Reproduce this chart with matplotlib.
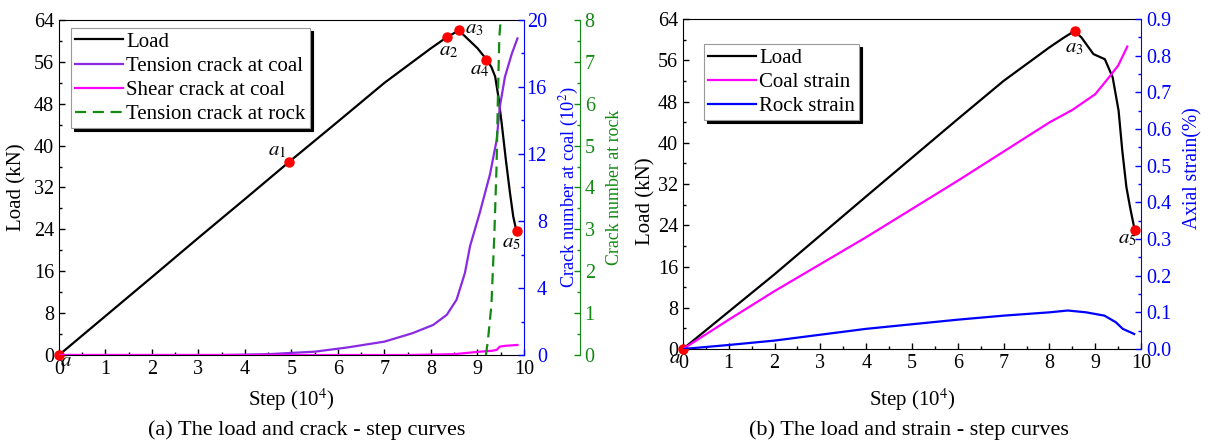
import matplotlib
matplotlib.use("Agg")
import matplotlib.pyplot as plt
from matplotlib.ticker import MultipleLocator, FormatStrFormatter

plt.rcParams["font.family"] = ["Liberation Serif", "DejaVu Serif"]
plt.rcParams["mathtext.fontset"] = "stix"
plt.rcParams["font.size"] = 14.5

# --- (a) load and crack vs step ---
step_load_a = [0, 1, 2, 3, 4, 4.95, 6, 7, 7.5, 8, 8.34, 8.6, 8.8, 9.0, 9.2, 9.3, 9.38, 9.45, 9.52, 9.61, 9.70, 9.77, 9.84]
load_a = [0, 7.45, 14.9, 22.4, 29.8, 36.9, 44.6, 52.0, 55.3, 58.6, 60.7, 62.0, 60.3, 58.6, 56.4, 55.0, 53.2, 49.3, 44.3, 37.3, 30.9, 26.4, 23.6]

tension_coal_x = [0, 3.5, 4.5, 5.5, 6.2, 7.0, 7.6, 8.05, 8.34, 8.55, 8.73, 8.84, 9.05, 9.27, 9.41, 9.48, 9.59, 9.74, 9.86]
tension_coal_y = [0, 0, 0.05, 0.2, 0.45, 0.8, 1.3, 1.8, 2.4, 3.3, 4.9, 6.5, 8.5, 10.8, 12.8, 14.8, 16.6, 18.0, 18.9]

shear_coal_x = [0, 7.5, 8.5, 9.05, 9.3, 9.41, 9.48, 9.6, 9.86]
shear_coal_y = [0, 0, 0.05, 0.2, 0.25, 0.3, 0.5, 0.55, 0.6]

tension_rock_x = [9.18, 9.22, 9.30, 9.36, 9.41, 9.44, 9.47, 9.50]
tension_rock_y = [0, 0.3, 1.2, 2.8, 4.5, 6.2, 7.6, 8.0]

pts_a_x = [0, 4.95, 8.34, 8.6, 9.19, 9.84]
pts_a_y = [0, 36.9, 60.7, 62.0, 56.3, 23.6]
pts_a_lab = [r"$a$", r"$a_1$", r"$a_2$", r"$a_3$", r"$a_4$", r"$a_5$"]
pts_a_off = [(5, -5), (-9, 8), (1.5, -10), (11, 1.5), (-5, -7), (-4, -8.5)]

# --- (b) load and strain vs step ---
step_load_b = [0, 2, 4, 6, 7, 8, 8.3, 8.55, 8.7, 8.96, 9.21, 9.38, 9.51, 9.59, 9.68, 9.76, 9.86]
load_b = [0, 14.5, 29.6, 44.6, 52.0, 58.5, 60.3, 61.7, 60.4, 57.2, 56.2, 52.7, 46.2, 38.5, 31.4, 27.5, 23.1]

coal_strain_x = [0, 1, 2, 4, 6, 8, 8.5, 9, 9.3, 9.5, 9.7]
coal_strain_y = [0, 0.08, 0.158, 0.305, 0.459, 0.618, 0.652, 0.695, 0.741, 0.773, 0.825]

rock_strain_x = [0, 1, 2, 4, 6, 7, 8, 8.4, 8.8, 9.2, 9.45, 9.6, 9.85]
rock_strain_y = [0, 0.011, 0.023, 0.055, 0.08, 0.091, 0.1, 0.105, 0.1, 0.091, 0.073, 0.055, 0.041]

pts_b_x = [0, 8.55, 9.86]
pts_b_y = [0, 61.7, 23.1]
pts_b_lab = [r"$a$", r"$a_3$", r"$a_5$"]
pts_b_off = [(-6, -7), (0, -12), (-5.5, -6.5)]

PURPLE = "#8a2be2"
MAGENTA = "#ff00ff"
GREEN = "#138a13"
BLUE = "#0000ff"


def style_x(ax):
    ax.set_xlim(0, 10)
    ax.xaxis.set_major_locator(MultipleLocator(1))
    ax.xaxis.set_minor_locator(MultipleLocator(0.5))
    ax.set_xlabel(r"Step (10$^4$)", fontsize=15)


def style_ticks(ax, color="k"):
    ax.tick_params(which="both", direction="in", color=color, labelcolor=color, width=1)
    ax.tick_params(which="major", length=4)
    ax.tick_params(which="minor", length=2.5)


def mark_points(ax, xs, ys, labels, offsets):
    ax.plot(xs, ys, "o", color="red", ms=6.5, zorder=10, clip_on=False)
    for x, y, lab, off in zip(xs, ys, labels, offsets):
        ax.annotate(lab, (x, y), xytext=off, textcoords="offset points",
                    ha="center", va="center", fontsize=15)


def add_legend(ax, handles, loc_xy):
    leg = ax.legend(handles=handles, loc="upper left", bbox_to_anchor=loc_xy,
                    fancybox=False, framealpha=1, edgecolor="#999999",
                    shadow={"color": "black", "alpha": 1}, handlelength=2.3,
                    borderpad=0.2, labelspacing=0.22, handletextpad=0.15,
                    borderaxespad=0, fontsize=15)
    leg.get_frame().set_linewidth(0.8)
    leg.set_zorder(20)


fig = plt.figure(figsize=(12.09, 4.42), dpi=100)

# ---------------- panel (a) ----------------
ax1 = fig.add_axes([0.0488, 0.1968, 0.3846, 0.758])
l_load, = ax1.plot(step_load_a, load_a, color="black", lw=1.6, label="Load")
ax1.set_ylim(0, 64)
ax1.yaxis.set_major_locator(MultipleLocator(8))
ax1.yaxis.set_minor_locator(MultipleLocator(4))
style_x(ax1)
style_ticks(ax1)
ax1.tick_params(right=False, which="both")
ax1.spines["right"].set_visible(False)
ax1.set_ylabel("Load (kN)", fontsize=15)
ax1.yaxis.set_label_coords(-0.071, 0.5)
ax1.xaxis.set_label_coords(0.5, -0.093)
mark_points(ax1, pts_a_x, pts_a_y, pts_a_lab, pts_a_off)

ax1b = ax1.twinx()
l_tc, = ax1b.plot(tension_coal_x, tension_coal_y, color=PURPLE, lw=1.6, label="Tension crack at coal")
l_sc, = ax1b.plot(shear_coal_x, shear_coal_y, color=MAGENTA, lw=1.6, label="Shear crack at coal")
ax1b.set_ylim(0, 20)
ax1b.yaxis.set_major_locator(MultipleLocator(4))
ax1b.yaxis.set_minor_locator(MultipleLocator(2))
style_ticks(ax1b, BLUE)
ax1b.tick_params(axis="y", which="major", pad=16.5)
plt.setp(ax1b.get_yticklabels(), ha="right")
ax1b.tick_params(axis="x", which="both", bottom=False, top=False)
for s in ("left", "top", "bottom"):
    ax1b.spines[s].set_visible(False)
ax1b.spines["right"].set_color(BLUE)
ax1b.set_ylabel(r"Crack number at coal (10$^2$)", color=BLUE, fontsize=13.2)
ax1b.yaxis.set_label_coords(1.073, 0.5)

ax1c = ax1.twinx()
ax1c.spines["right"].set_position(("axes", 1.12))
l_tr, = ax1c.plot(tension_rock_x, tension_rock_y, color=GREEN, lw=1.6, ls=(0, (5, 3)),
                  label="Tension crack at rock")
ax1c.set_ylim(0, 8)
ax1c.yaxis.set_major_locator(MultipleLocator(1))
ax1c.yaxis.set_minor_locator(MultipleLocator(0.5))
style_ticks(ax1c, GREEN)
ax1c.tick_params(axis="x", which="both", bottom=False, top=False)
for s in ("left", "top", "bottom"):
    ax1c.spines[s].set_visible(False)
ax1c.spines["right"].set_color(GREEN)
ax1c.set_ylabel("Crack number at rock", color=GREEN, fontsize=12.9)
ax1c.yaxis.set_label_coords(1.176, 0.5)
add_legend(ax1c, [l_load, l_tc, l_sc, l_tr], (0.026, 0.976))

fig.text(0.254, 0.027, "(a) The load and crack - step curves", ha="center", va="center", fontsize=16)

# ---------------- panel (b) ----------------
ax2 = fig.add_axes([0.5649, 0.2104, 0.3789, 0.7466])
m_load, = ax2.plot(step_load_b, load_b, color="black", lw=1.6, label="Load")
ax2.set_ylim(0, 64)
ax2.yaxis.set_major_locator(MultipleLocator(8))
ax2.yaxis.set_minor_locator(MultipleLocator(4))
style_x(ax2)
style_ticks(ax2)
ax2.tick_params(right=False, which="both")
ax2.spines["right"].set_visible(False)
ax2.set_ylabel("Load (kN)", fontsize=15)
ax2.yaxis.set_label_coords(-0.061, 0.448)
ax2.xaxis.set_label_coords(0.5, -0.112)
mark_points(ax2, pts_b_x, pts_b_y, pts_b_lab, pts_b_off)

ax2b = ax2.twinx()
m_cs, = ax2b.plot(coal_strain_x, coal_strain_y, color=MAGENTA, lw=1.6, label="Coal strain")
m_rs, = ax2b.plot(rock_strain_x, rock_strain_y, color=BLUE, lw=1.6, label="Rock strain")
ax2b.set_ylim(0, 0.9)
ax2b.yaxis.set_major_locator(MultipleLocator(0.1))
ax2b.yaxis.set_minor_locator(MultipleLocator(0.05))
ax2b.yaxis.set_major_formatter(FormatStrFormatter("%.1f"))
style_ticks(ax2b, BLUE)
ax2b.tick_params(axis="x", which="both", bottom=False, top=False)
for s in ("left", "top", "bottom"):
    ax2b.spines[s].set_visible(False)
ax2b.spines["right"].set_color(BLUE)
ax2b.set_ylabel("Axial strain(%)", color=BLUE, fontsize=14.1)
ax2b.yaxis.set_label_coords(1.092, 0.547)
add_legend(ax2b, [m_load, m_cs, m_rs], (0.046, 0.924))

fig.text(0.752, 0.027, "(b) The load and strain - step curves", ha="center", va="center", fontsize=16)

fig.savefig("out.png", dpi=100)
